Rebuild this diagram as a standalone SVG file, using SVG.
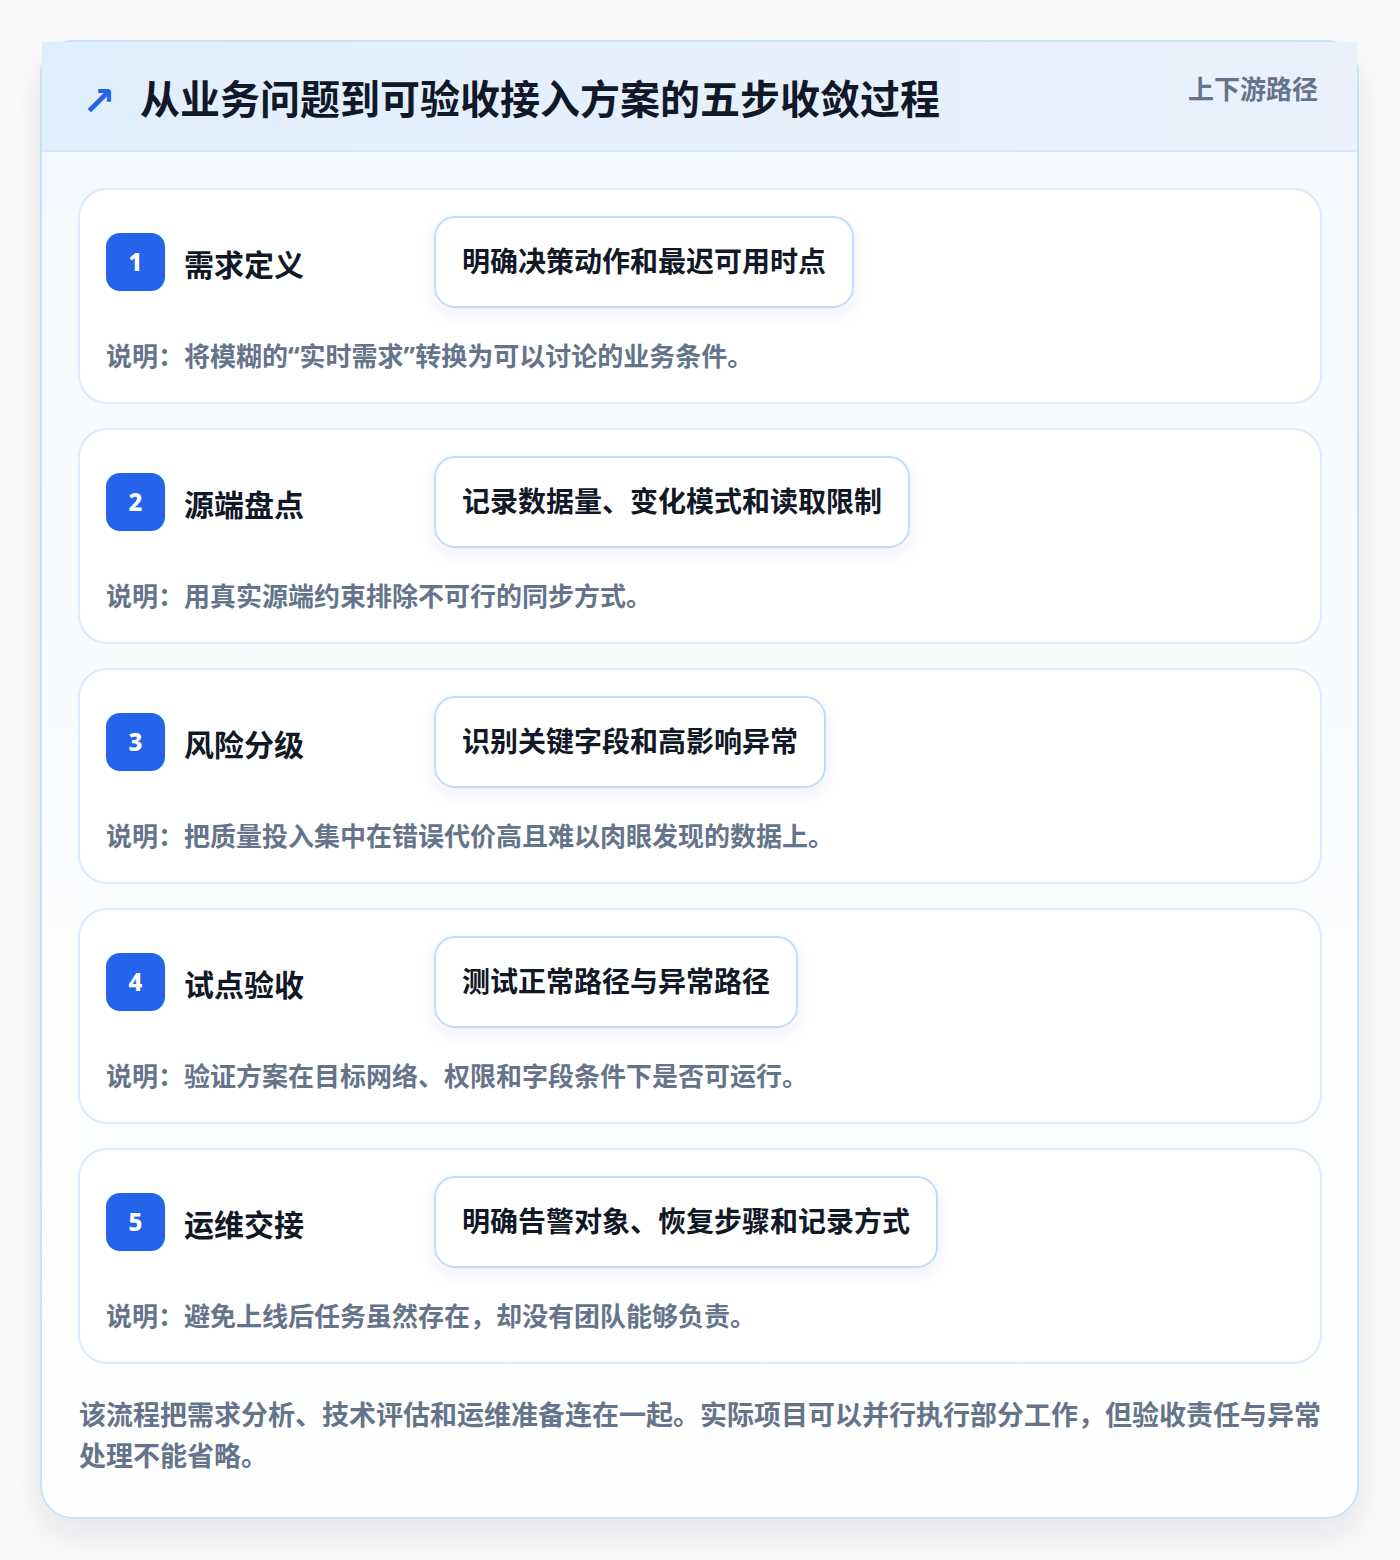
<svg xmlns="http://www.w3.org/2000/svg" width="1400" height="1560" viewBox="0 0 1400 1560">
<defs>
<linearGradient id="hdr" x1="0" y1="0" x2="1" y2="0"><stop offset="0" stop-color="#e0effd"/><stop offset="1" stop-color="#eaf1fd"/></linearGradient>
<linearGradient id="body" x1="0" y1="0" x2="0" y2="1"><stop offset="0" stop-color="#f2f8fe"/><stop offset="0.6" stop-color="#fbfdff"/><stop offset="1" stop-color="#ffffff"/></linearGradient>
<filter id="sh" x="-10%" y="-10%" width="120%" height="120%"><feDropShadow dx="0" dy="16" stdDeviation="18" flood-color="#0f172a" flood-opacity="0.09"/></filter>
<filter id="psh" x="-10%" y="-20%" width="120%" height="150%"><feDropShadow dx="0" dy="6" stdDeviation="7" flood-color="#1e3a8a" flood-opacity="0.07"/></filter>
<style>
text{font-family:"Noto Sans","Noto Sans CJK SC",sans-serif;font-weight:700}
.card{fill:#ffffff;stroke:#dbeafe;stroke-width:2}
.badge{fill:#2563eb}
.num{fill:#ffffff;font-size:24px;font-weight:800;text-anchor:middle}
.st{fill:#111827;font-size:30px}
.pill{fill:#ffffff;stroke:#bfdbfe;stroke-width:2}
.pt{fill:#111827;font-size:28px}
.desc{fill:#64748b;font-size:26px}
.foot{fill:#64748b;font-size:27px}
</style>
</defs>
<rect width="1400" height="1560" fill="#fafafb"/>
<g id="container">
<rect x="41" y="41" width="1317" height="1477" rx="32" fill="url(#body)" stroke="#c5e2f6" stroke-width="2" filter="url(#sh)"/>
<rect x="42" y="42" width="1315" height="109" fill="url(#hdr)"/>
<line x1="42" y1="151" x2="1357" y2="151" stroke="#d5e7f8" stroke-width="2"/>
<text x="82" y="115" font-size="40" fill="#2563eb" style="font-family:'DejaVu Sans',sans-serif;font-weight:700">↗</text>
<text x="140" y="114" font-size="40" fill="#111827">从业务问题到可验收接入方案的五步收敛过程</text>
<text x="1318" y="99" font-size="26" fill="#64748b" text-anchor="end">上下游路径</text>
</g>
<g id="connectors"></g>
<g id="step1">
<rect class="card" x="79" y="189" width="1242" height="214" rx="28"/>
<rect class="badge" x="106" y="233" width="59" height="58" rx="14"/>
<text class="num" x="135.5" y="271">1</text>
<text class="st" x="184" y="276">需求定义</text>
<rect class="pill" x="435" y="217" width="418" height="90" rx="20" filter="url(#psh)"/>
<text class="pt" x="462" y="272">明确决策动作和最迟可用时点</text>
<text class="desc" x="106" y="366">说明：将模糊的“实时需求”转换为可以讨论的业务条件。</text>
</g>
<g id="step2">
<rect class="card" x="79" y="429" width="1242" height="214" rx="28"/>
<rect class="badge" x="106" y="473" width="59" height="58" rx="14"/>
<text class="num" x="135.5" y="511">2</text>
<text class="st" x="184" y="516">源端盘点</text>
<rect class="pill" x="435" y="457" width="474" height="90" rx="20" filter="url(#psh)"/>
<text class="pt" x="462" y="512">记录数据量、变化模式和读取限制</text>
<text class="desc" x="106" y="606">说明：用真实源端约束排除不可行的同步方式。</text>
</g>
<g id="step3">
<rect class="card" x="79" y="669" width="1242" height="214" rx="28"/>
<rect class="badge" x="106" y="713" width="59" height="58" rx="14"/>
<text class="num" x="135.5" y="751">3</text>
<text class="st" x="184" y="756">风险分级</text>
<rect class="pill" x="435" y="697" width="390" height="90" rx="20" filter="url(#psh)"/>
<text class="pt" x="462" y="752">识别关键字段和高影响异常</text>
<text class="desc" x="106" y="846">说明：把质量投入集中在错误代价高且难以肉眼发现的数据上。</text>
</g>
<g id="step4">
<rect class="card" x="79" y="909" width="1242" height="214" rx="28"/>
<rect class="badge" x="106" y="953" width="59" height="58" rx="14"/>
<text class="num" x="135.5" y="991">4</text>
<text class="st" x="184" y="996">试点验收</text>
<rect class="pill" x="435" y="937" width="362" height="90" rx="20" filter="url(#psh)"/>
<text class="pt" x="462" y="992">测试正常路径与异常路径</text>
<text class="desc" x="106" y="1086">说明：验证方案在目标网络、权限和字段条件下是否可运行。</text>
</g>
<g id="step5">
<rect class="card" x="79" y="1149" width="1242" height="214" rx="28"/>
<rect class="badge" x="106" y="1193" width="59" height="58" rx="14"/>
<text class="num" x="135.5" y="1231">5</text>
<text class="st" x="184" y="1236">运维交接</text>
<rect class="pill" x="435" y="1177" width="502" height="90" rx="20" filter="url(#psh)"/>
<text class="pt" x="462" y="1232">明确告警对象、恢复步骤和记录方式</text>
<text class="desc" x="106" y="1326">说明：避免上线后任务虽然存在，却没有团队能够负责。</text>
</g>
<g id="footer">
<text class="foot" x="79" y="1425">该流程把需求分析、技术评估和运维准备连在一起。实际项目可以并行执行部分工作，但验收责任与异常</text>
<text class="foot" x="79" y="1466">处理不能省略。</text>
</g>
</svg>
